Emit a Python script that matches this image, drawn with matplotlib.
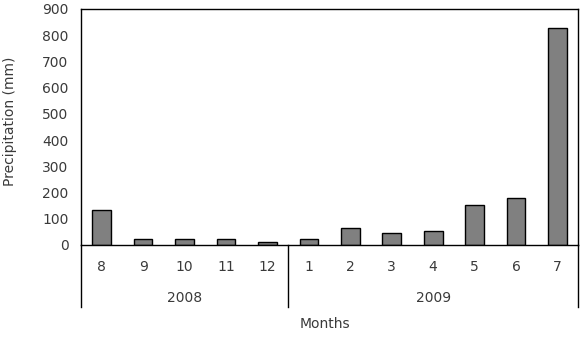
import numpy as np
import matplotlib
matplotlib.use('Agg')
import matplotlib.pyplot as plt
import matplotlib.transforms as mtransforms

plt.rcParams['font.family'] = ['DejaVu Sans']

# Data
months = ['8', '9', '10', '11', '12', '1', '2', '3', '4', '5', '6', '7']
years = ['2008', '2009']
months_per_year = [5, 7]
precip = [133, 22, 22, 22, 12, 22, 63, 45, 55, 154, 178, 829]

text_col = '#3a3a3a'

fig = plt.figure(figsize=(5.87, 3.46), dpi=100)
ax = fig.add_axes([0.138, 0.292, 0.847, 0.682])

x = np.arange(len(months))
ax.bar(x, precip, width=0.45, color='#808080', edgecolor='black', linewidth=1.0)

ax.set_xlim(-0.5, len(months) - 0.5)
ax.set_ylim(0, 900)
ax.set_yticks(range(0, 901, 100))
ax.tick_params(axis='y', length=0, labelsize=10, labelcolor=text_col, pad=9)
ax.set_xticks(x)
ax.set_xticklabels(months)
ax.tick_params(axis='x', length=0, labelsize=10, labelcolor=text_col, pad=11)
for s in ax.spines.values():
    s.set_linewidth(1.0)
    s.set_color('black')

fig.text(10 / 587, 0.649, 'Precipitation (mm)', rotation=90, ha='center', va='center',
         fontsize=10, color=text_col)

# year group separators and labels below the axis
trans = mtransforms.blended_transform_factory(ax.transData, ax.transAxes)
edges = np.concatenate([[0], np.cumsum(months_per_year)]) - 0.5
for e in edges:
    ax.plot([e, e], [0, -0.263], transform=trans, color='black', lw=1.0, clip_on=False)
for i, yr in enumerate(years):
    ax.text((edges[i] + edges[i + 1]) / 2, -0.225, yr, transform=trans,
            ha='center', va='center', fontsize=10, color=text_col)

ax.text(0.49, -0.333, 'Months', transform=ax.transAxes, ha='center', va='center',
        fontsize=10, color=text_col)

plt.savefig('out.png', dpi=100)
